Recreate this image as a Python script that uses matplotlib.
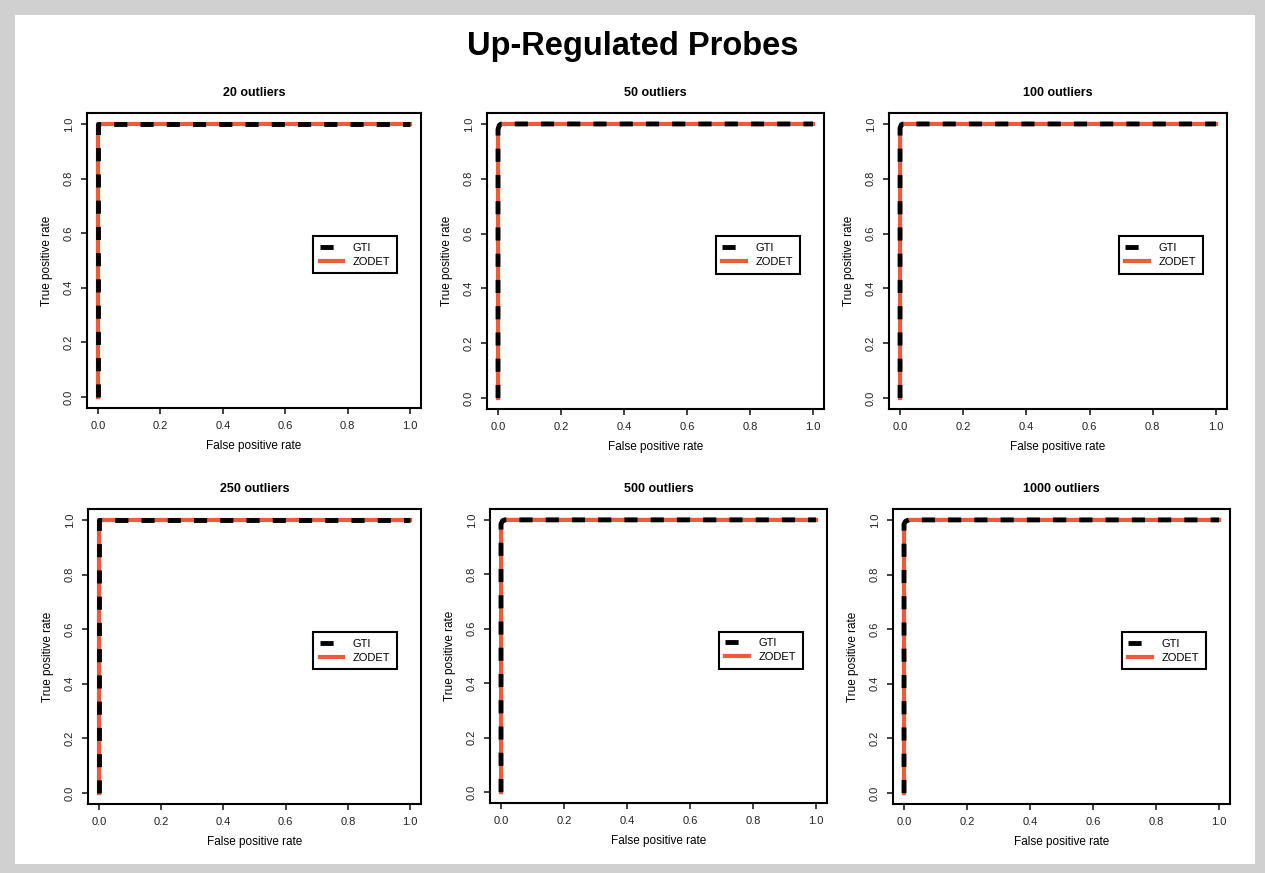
import matplotlib.pyplot as plt
from matplotlib.patches import Rectangle

plt.rcParams['font.family'] = ['Liberation Sans', 'DejaVu Sans']

# ROC curves (both methods overlap almost exactly)
panel_titles = ['20 outliers', '50 outliers', '100 outliers',
                '250 outliers', '500 outliers', '1000 outliers']

gti_fpr = [[0, 0, 1],
           [0, 0, 0.004, 0.01, 1],
           [0, 0, 0.004, 0.01, 1],
           [0, 0, 1],
           [0, 0, 0.005, 0.012, 1],
           [0, 0, 0.005, 0.015, 1]]
gti_tpr = [[0, 1, 1],
           [0, 0.98, 0.995, 1, 1],
           [0, 0.985, 0.997, 1, 1],
           [0, 1, 1],
           [0, 0.985, 0.997, 1, 1],
           [0, 0.985, 0.995, 1, 1]]
zodet_fpr = [[0, 0, 1],
             [0, 0, 0.004, 0.01, 1],
             [0, 0, 0.004, 0.01, 1],
             [0, 0, 1],
             [0, 0, 0.005, 0.012, 1],
             [0, 0, 0.005, 0.015, 1]]
zodet_tpr = [[0, 1, 1],
             [0, 0.98, 0.995, 1, 1],
             [0, 0.985, 0.997, 1, 1],
             [0, 1, 1],
             [0, 0.985, 0.997, 1, 1],
             [0, 0.985, 0.995, 1, 1]]

tick_vals = [0.0, 0.2, 0.4, 0.6, 0.8, 1.0]
tick_labels = ['0.0', '0.2', '0.4', '0.6', '0.8', '1.0']

W, H = 1265, 873
ORANGE = '#ef5a3a'

fig = plt.figure(figsize=(W / 100, H / 100), dpi=100)
fig.patch.set_facecolor('#d0d0d0')
fig.add_artist(Rectangle((15 / W, 9 / H), (1255 - 15) / W, (864 - 15) / H,
                         transform=fig.transFigure, facecolor='white',
                         edgecolor='none', zorder=0))

fig.text(633 / W, 1 - 47 / H, 'Up-Regulated Probes', ha='center', va='center',
         fontsize=23.5, fontweight='bold')

# panel boxes in pixels: left, top, right, bottom
boxes = [(87, 113, 421, 408), (487, 113, 824, 409), (889, 113, 1227, 409),
         (88, 509, 421, 804), (490, 509, 827, 803), (893, 509, 1230, 804)]

for i, (l, t, r, b) in enumerate(boxes):
    ax = fig.add_axes([l / W, 1 - b / H, (r - l) / W, (b - t) / H])
    ax.set_facecolor('white')

    z, = ax.plot(zodet_fpr[i], zodet_tpr[i], color=ORANGE, lw=3, zorder=2,
                 label='ZODET')
    g, = ax.plot(gti_fpr[i], gti_tpr[i], color='black', lw=3.5,
                 ls=(0, (2.7, 2.7)), dash_capstyle='butt', zorder=3,
                 label='GTI')

    ax.set_xlim(-0.035, 1.035)
    ax.set_ylim(-0.04, 1.04)
    ax.set_xticks(tick_vals)
    ax.set_xticklabels(tick_labels)
    ax.set_yticks(tick_vals)
    ax.set_yticklabels(tick_labels, rotation=90, va='center')
    ax.tick_params(direction='out', length=4.5, width=1.2, labelsize=8,
                   pad=5, colors='#222222')
    for s in ax.spines.values():
        s.set_linewidth(1.5)

    ax.set_title(panel_titles[i], fontsize=9, fontweight='bold', pad=12.5)
    ax.set_xlabel('False positive rate', fontsize=8.5)
    ax.set_ylabel('True positive rate', fontsize=8.5)
    ax.xaxis.set_label_coords(0.5, -0.109)
    ax.yaxis.set_label_coords(-0.101, 0.5)

    leg = ax.legend(handles=[g, z], loc='center right',
                    bbox_to_anchor=(0.945, 0.52), fontsize=8, fancybox=False,
                    framealpha=1, edgecolor='black', handlelength=2.1,
                    handletextpad=0.9, labelspacing=0.35, borderpad=0.6)
    leg.get_frame().set_linewidth(1.5)

fig.savefig('out.png', dpi=100, facecolor=fig.get_facecolor())
